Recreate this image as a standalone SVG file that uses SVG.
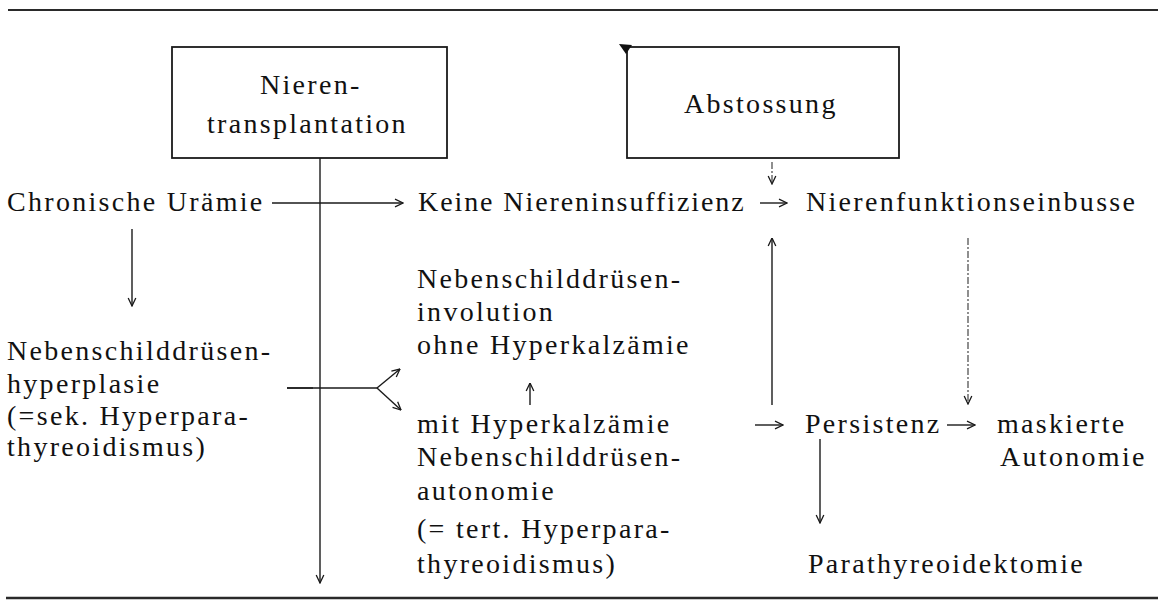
<svg xmlns="http://www.w3.org/2000/svg" width="1158" height="610" viewBox="0 0 1158 610">
<style>
text{font-family:"Liberation Serif","DejaVu Serif","Times New Roman",serif;font-size:28px;fill:#111;letter-spacing:2.3px}
.ln{stroke:#1a1a1a;stroke-width:1.4;fill:none}
.dash{stroke:#333;stroke-width:1.1;fill:none;stroke-dasharray:7 2 2 2}
.box{fill:none;stroke:#1a1a1a;stroke-width:1.8}
.rule{stroke:#2a2a2a;fill:none}
</style>
<defs>
<marker id="ah" viewBox="0 0 10 10" refX="9.5" refY="5" markerWidth="10" markerHeight="10" markerUnits="userSpaceOnUse" orient="auto">
<path d="M1.5,1.2 L9.5,5 L1.5,8.8" fill="none" stroke="#1a1a1a" stroke-width="1.3"/>
</marker>
</defs>
<line class="rule" x1="8" y1="10" x2="1158" y2="10" stroke-width="1.8"/>
<line class="rule" x1="6" y1="598" x2="1158" y2="598" stroke-width="2.6"/>

<g id="nierentransplantation">
<rect class="box" x="172" y="47" width="275" height="111"/>
<text x="260" y="94">Nieren-</text>
<text x="207" y="133">transplantation</text>
</g>
<g id="abstossung">
<rect class="box" x="627" y="47" width="272" height="111"/>
<polygon points="619,44 632,45 626,54" fill="#111"/>
<text x="684" y="113">Abstossung</text>
</g>
<g id="chronische-uraemie"><text x="7" y="211">Chronische Urämie</text></g>
<g id="keine-niereninsuffizienz"><text x="418" y="211" textLength="328" lengthAdjust="spacing">Keine Niereninsuffizienz</text></g>
<g id="nierenfunktionseinbusse"><text x="806" y="211">Nierenfunktionseinbusse</text></g>
<g id="sek-hyperparathyreoidismus">
<text x="7" y="360">Nebenschilddrüsen-</text>
<text x="7" y="393">hyperplasie</text>
<text x="7" y="425">(=sek. Hyperpara-</text>
<text x="7" y="456">thyreoidismus)</text>
</g>
<g id="involution">
<text x="417" y="288">Nebenschilddrüsen-</text>
<text x="417" y="321">involution</text>
<text x="417" y="354">ohne Hyperkalzämie</text>
</g>
<g id="autonomie">
<text x="417" y="433">mit Hyperkalzämie</text>
<text x="417" y="466">Nebenschilddrüsen-</text>
<text x="417" y="500">autonomie</text>
<text x="417" y="538">(= tert. Hyperpara-</text>
<text x="417" y="573">thyreoidismus)</text>
</g>
<g id="persistenz"><text x="805" y="433">Persistenz</text></g>
<g id="maskierte-autonomie">
<text x="997" y="433">maskierte</text>
<text x="1000" y="466">Autonomie</text>
</g>
<g id="parathyreoidektomie"><text x="808" y="573">Parathyreoidektomie</text></g>

<g id="connectors">
<line class="ln" x1="320" y1="158" x2="320" y2="583" marker-end="url(#ah)"/>
<line class="ln" x1="272" y1="203" x2="403" y2="203" marker-end="url(#ah)"/>
<line class="ln" x1="132" y1="229" x2="132" y2="306" marker-end="url(#ah)"/>
<line class="ln" x1="287" y1="388" x2="377" y2="388"/>
<line class="ln" x1="287" y1="388" x2="313" y2="388" stroke-width="2.2"/>
<line class="ln" x1="377" y1="388" x2="400" y2="369" marker-end="url(#ah)"/>
<line class="ln" x1="377" y1="388" x2="401" y2="410" marker-end="url(#ah)"/>
<line class="ln" x1="760" y1="203" x2="787" y2="203" marker-end="url(#ah)"/>
<line class="dash" x1="772" y1="162" x2="772" y2="184" marker-end="url(#ah)"/>
<line class="ln" x1="772" y1="405" x2="772" y2="238" marker-end="url(#ah)"/>
<line class="dash" x1="968" y1="238" x2="968" y2="404" marker-end="url(#ah)"/>
<line class="ln" x1="530" y1="405" x2="530" y2="383" marker-end="url(#ah)"/>
<line class="ln" x1="755" y1="425" x2="783" y2="425" marker-end="url(#ah)"/>
<line class="ln" x1="947" y1="425" x2="975" y2="425" marker-end="url(#ah)"/>
<line class="ln" x1="820" y1="439" x2="820" y2="523" marker-end="url(#ah)"/>
</g>
</svg>
